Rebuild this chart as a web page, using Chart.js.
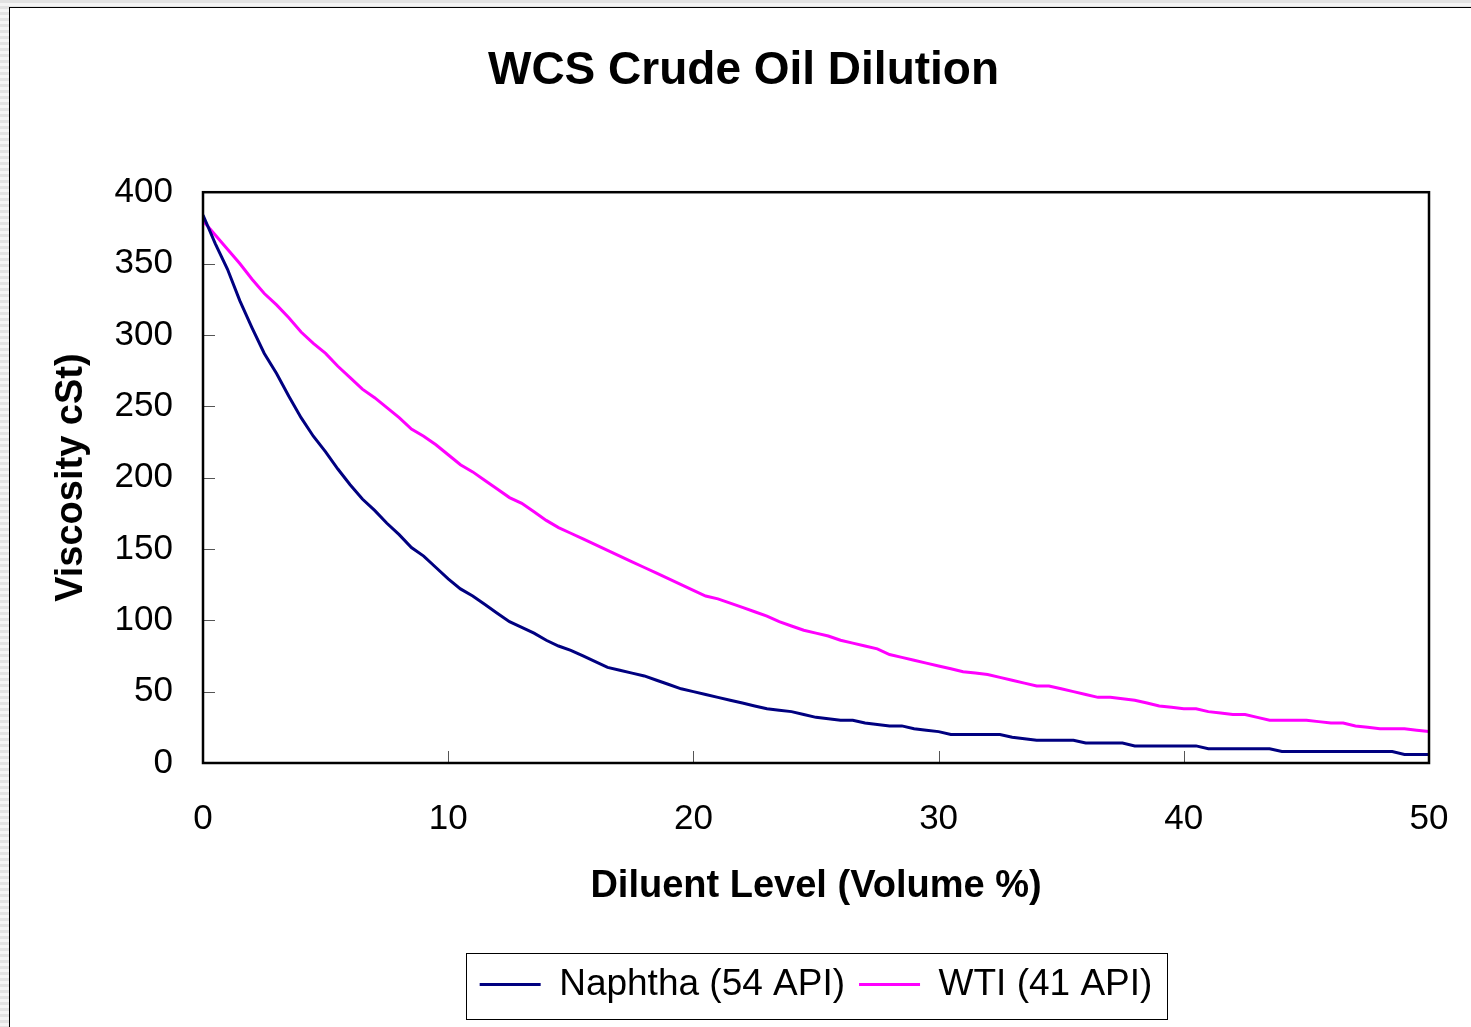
<!DOCTYPE html>
<html>
<head>
<meta charset="utf-8">
<title>WCS Crude Oil Dilution</title>
<script src="https://cdn.jsdelivr.net/npm/chart.js@4.4.1/dist/chart.umd.min.js"></script>
<style>
  html, body { margin: 0; padding: 0; }
  body {
    width: 1471px; height: 1027px; overflow: hidden; position: relative;
    background: repeating-linear-gradient(to bottom, #e2e2e2 0px, #e2e2e2 3px, #f4f4f4 3px, #f4f4f4 6px);
  }
  #frame {
    position: absolute; left: 9px; top: 7px; width: 1470px; height: 1030px;
    background: #fff; border-left: 1px solid #000; border-top: 1px solid #000;
  }
  #myChart { position: absolute; left: 0; top: 0; }
</style>
</head>
<body>
<div id="frame"></div>
<canvas id="myChart" width="1471" height="1027"></canvas>
<script>
// diluent level, volume %
const diluentLevel = [
  0, 0.5, 1, 1.5, 2, 2.5, 3, 3.5, 4, 4.5,
  5, 5.5, 6, 6.5, 7, 7.5, 8, 8.5, 9, 9.5,
  10, 10.5, 11, 11.5, 12, 12.5, 13, 13.5, 14, 14.5,
  15, 15.5, 16, 16.5, 17, 17.5, 18, 18.5, 19, 19.5,
  20, 20.5, 21, 21.5, 22, 22.5, 23, 23.5, 24, 24.5,
  25, 25.5, 26, 26.5, 27, 27.5, 28, 28.5, 29, 29.5,
  30, 30.5, 31, 31.5, 32, 32.5, 33, 33.5, 34, 34.5,
  35, 35.5, 36, 36.5, 37, 37.5, 38, 38.5, 39, 39.5,
  40, 40.5, 41, 41.5, 42, 42.5, 43, 43.5, 44, 44.5,
  45, 45.5, 46, 46.5, 47, 47.5, 48, 48.5, 49, 49.5,
  50
];

// viscosity cSt, naphtha (54 API)
const naphtha = [
  384, 364, 346, 324, 305, 287, 273, 257, 242, 229,
  218, 206, 195, 185, 177, 168, 160, 151, 145, 137,
  129, 122, 117, 111, 105, 99, 95, 91, 86, 82,
  79, 75, 71, 67, 65, 63, 61, 58, 55, 52,
  50, 48, 46, 44, 42, 40, 38, 37, 36, 34,
  32, 31, 30, 30, 28, 27, 26, 26, 24, 23,
  22, 20, 20, 20, 20, 20, 18, 17, 16, 16,
  16, 16, 14, 14, 14, 14, 12, 12, 12, 12,
  12, 12, 10, 10, 10, 10, 10, 10, 8, 8,
  8, 8, 8, 8, 8, 8, 8, 8, 6, 6,
  6
];

// viscosity cSt, WTI (41 API)
const wti = [
  380, 370, 360, 350, 339, 329, 321, 312, 302, 294,
  287, 278, 270, 262, 256, 249, 242, 234, 229, 223,
  216, 209, 204, 198, 192, 186, 182, 176, 170, 165,
  161, 157, 153, 149, 145, 141, 137, 133, 129, 125,
  121, 117, 115, 112, 109, 106, 103, 99, 96, 93,
  91, 89, 86, 84, 82, 80, 76, 74, 72, 70,
  68, 66, 64, 63, 62, 60, 58, 56, 54, 54,
  52, 50, 48, 46, 46, 45, 44, 42, 40, 39,
  38, 38, 36, 35, 34, 34, 32, 30, 30, 30,
  30, 29, 28, 28, 26, 25, 24, 24, 24, 23,
  22
];

const seriesNames = ["Naphtha (54 API)", "WTI (41 API)"];
const seriesColors = ["#000080", "#ff00ff"];

const FONT = "'Liberation Sans', Arial, Helvetica, sans-serif";

function toPoints(ys) {
  return diluentLevel.map((x, i) => ({ x: x, y: ys[i] }));
}

// plot frame, inner tick marks and legend box
const framePlugin = {
  id: "framePlugin",
  afterDatasetsDraw(chart) {
    const ctx = chart.ctx;
    const a = chart.chartArea;
    const xs = chart.scales.x;
    const ys = chart.scales.y;
    ctx.save();
    ctx.strokeStyle = "#555";
    ctx.lineWidth = 1;
    xs.ticks.forEach(t => {
      const px = Math.round(xs.getPixelForValue(t.value)) + 0.5;
      ctx.beginPath();
      ctx.moveTo(px, a.bottom);
      ctx.lineTo(px, a.bottom - 12);
      ctx.stroke();
    });
    ys.ticks.forEach(t => {
      const py = Math.round(ys.getPixelForValue(t.value)) + 0.5;
      ctx.beginPath();
      ctx.moveTo(a.left, py);
      ctx.lineTo(a.left + 12, py);
      ctx.stroke();
    });
    ctx.strokeStyle = "#000";
    ctx.lineWidth = 2.5;
    ctx.strokeRect(a.left, a.top, a.right - a.left, a.bottom - a.top);
    ctx.restore();
  },
  afterDraw(chart) {
    const boxes = chart.legend && chart.legend.legendHitBoxes;
    if (!boxes || !boxes.length) return;
    const first = boxes[0];
    const last = boxes[boxes.length - 1];
    const ctx = chart.ctx;
    ctx.save();
    ctx.strokeStyle = "#000";
    ctx.lineWidth = 1;
    const l = Math.round(first.left - 14) + 0.5;
    const r = Math.round(last.left + last.width + 15) + 0.5;
    const t = Math.round(first.top - 13) + 0.5;
    const b = Math.round(first.top + first.height + 16) + 0.5;
    ctx.strokeRect(l, t, r - l, b - t);
    ctx.restore();
  }
};

new Chart("myChart", {
  type: "line",
  data: {
    datasets: [
      {
        label: seriesNames[0],
        data: toPoints(naphtha),
        borderColor: seriesColors[0],
        backgroundColor: seriesColors[0],
        borderWidth: 3,
        pointRadius: 0,
        tension: 0,
        fill: false
      },
      {
        label: seriesNames[1],
        data: toPoints(wti),
        borderColor: seriesColors[1],
        backgroundColor: seriesColors[1],
        borderWidth: 3,
        pointRadius: 0,
        tension: 0,
        fill: false
      }
    ]
  },
  options: {
    responsive: false,
    devicePixelRatio: 1,
    animation: false,
    layout: { autoPadding: false, padding: { left: 58, right: 42, top: 0, bottom: 14 } },
    plugins: {
      tooltip: { enabled: false },
      title: {
        display: true,
        text: "WCS Crude Oil Dilution",
        color: "#000",
        font: { family: FONT, size: 46, weight: "bold" },
        padding: { top: 44, bottom: 93 }
      },
      legend: {
        display: true,
        position: "bottom",
        fullSize: false,
        labels: {
          color: "#000",
          font: { family: FONT, size: 37 },
          usePointStyle: true,
          pointStyle: "line",
          pointStyleWidth: 61,
          padding: 14
        }
      }
    },
    scales: {
      x: {
        type: "linear",
        min: 0,
        max: 50,
        grid: { display: false },
        border: { display: false },
        ticks: {
          stepSize: 10,
          color: "#000",
          padding: 27,
          maxRotation: 0,
          font: { family: FONT, size: 35 }
        },
        title: {
          display: true,
          text: "Diluent Level (Volume %)",
          color: "#000",
          font: { family: FONT, size: 38, weight: "bold" },
          padding: { top: 0, bottom: 43 }
        },
        afterFit: function (scale) {
          scale.height = 189;
          scale.paddingLeft = 0;
          scale.paddingRight = 0;
        }
      },
      y: {
        min: 0,
        max: 400,
        grid: { display: false },
        border: { display: false },
        ticks: {
          stepSize: 50,
          color: "#000",
          padding: 22,
          font: { family: FONT, size: 35 }
        },
        title: {
          display: true,
          text: "Viscosity cSt)",
          color: "#000",
          font: { family: FONT, size: 38, weight: "bold" },
          padding: { top: -9, bottom: 0 }
        },
        afterFit: function (scale) { scale.width = 145; }
      }
    }
  },
  plugins: [framePlugin]
});
</script>
</body>
</html>
